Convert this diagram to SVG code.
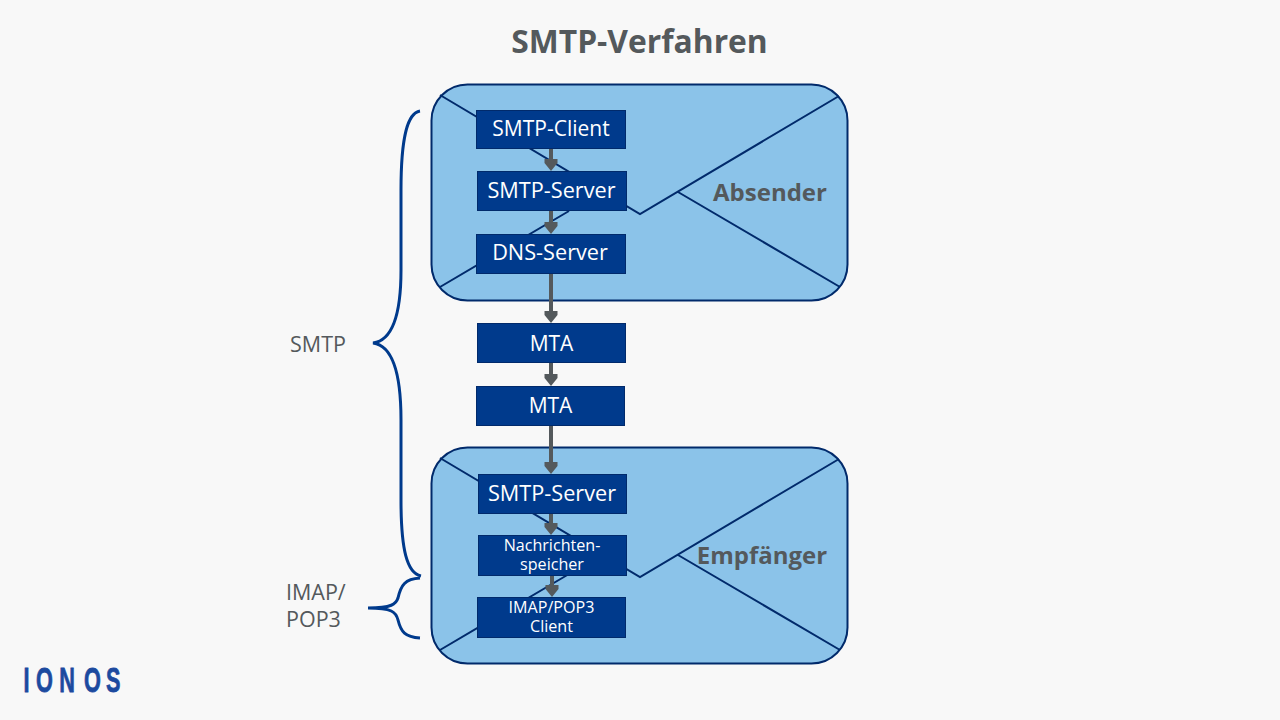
<svg xmlns="http://www.w3.org/2000/svg" width="1280" height="720" viewBox="0 0 1280 720">
<defs>
<marker id="arrow" markerUnits="userSpaceOnUse" markerWidth="14" markerHeight="14" refX="7" refY="6.500" orient="auto"><path d="M0,0 L4,0 L12,6.500 L4,13 L0,13 Z" fill="#54595c"/></marker>
<g id="envelope">
<rect x="431.500" y="84.500" width="416" height="216" rx="36" ry="36" fill="#8bc3e9" stroke="#012a6b" stroke-width="2"/>
<path d="M440,95 L640,214 L839,96 M440,287 L569,211 M678,192 L840,287" fill="none" stroke="#012a6b" stroke-width="2"/>
</g>
</defs>
<style>
text{font-family:"Open Sans","Noto Sans","DejaVu Sans",sans-serif;text-anchor:middle}
.box{fill:#003a8c;stroke:#012a6b;stroke-width:1}
.n{fill:#fff;font-size:21px}
.w{fill:#fff;font-size:21.700px}
.s{fill:#fff;font-size:16.100px}
.e{fill:#54595c;font-size:24px;font-weight:700}
.l{fill:#54595c;font-size:21.500px;text-anchor:start}
.c{fill:none;stroke:#54595c;stroke-width:4;marker-end:url(#arrow)}
.b{fill:none;stroke:#003a8c;stroke-width:3}
</style>
<rect width="1280" height="720" fill="#f8f8f8"/>
<text x="639.500" y="53" font-size="31.800" font-weight="700" fill="#54595c">SMTP-Verfahren</text>
<g id="absender"><use href="#envelope"/><text class="e" x="770" y="201">Absender</text></g>
<g id="empfaenger"><use href="#envelope" y="363"/><text class="e" x="762" y="564">Empfänger</text></g>
<g id="smtp-brace"><path class="b" d="M420,111 C408,113 401,135 401,190 L401,270 C401,305 396,340 373,343 C396,346 401,385 401,420 L401,500 C401,550 407,573 421,576"/><text class="l" x="290" y="352">SMTP</text></g>
<g id="imap-brace"><path class="b" d="M420,578 C405,579 401,585 398,598 C396,604 392,608 368,608 C392,608 396,612 398,620 C401,632 405,637 420,638"/><text class="l" x="286" y="600">IMAP/</text><text class="l" x="286" y="627">POP3</text></g>
<g id="connectors">
<path class="c" d="M551,149 V166"/>
<path class="c" d="M551,211 V229"/>
<path class="c" d="M551,274 V318"/>
<path class="c" d="M551,363 V381"/>
<path class="c" d="M551,426 V469"/>
<path class="c" d="M551,514 V530"/>
<path class="c" d="M552,576 V592"/>
</g>
<g id="smtp-client"><rect class="box" x="476.500" y="110.500" width="149" height="38"/><text class="n" x="551" y="136">SMTP-Client</text></g>
<g id="smtp-server-1"><rect class="box" x="477.500" y="171.500" width="149" height="39"/><text class="w" x="551.500" y="198">SMTP-Server</text></g>
<g id="dns-server"><rect class="box" x="476.500" y="234.500" width="149" height="39"/><text class="w" x="550" y="260">DNS-Server</text></g>
<g id="mta-1"><rect class="box" x="477.500" y="323.500" width="148" height="39"/><text class="n" x="551.500" y="351">MTA</text></g>
<g id="mta-2"><rect class="box" x="476.500" y="386.500" width="148" height="39"/><text class="n" x="550.500" y="413">MTA</text></g>
<g id="smtp-server-2"><rect class="box" x="478.500" y="474.500" width="148" height="39"/><text class="w" x="552" y="501">SMTP-Server</text></g>
<g id="speicher"><rect class="box" x="478.500" y="535.500" width="148" height="40"/><text class="s" x="552" y="551">Nachrichten-</text><text class="s" x="552" y="570">speicher</text></g>
<g id="imap-client"><rect class="box" x="477.500" y="597.500" width="148" height="40"/><text class="s" x="551.500" y="613">IMAP/POP3</text><text class="s" x="551.500" y="632">Client</text></g>
<g id="logo"><text x="0 20.200 57.300 97.600 133" y="0" transform="translate(23.600,691.500) scale(0.62,1)" font-size="35" font-weight="700" fill="#1c4a9f" stroke="#1c4a9f" stroke-width="0.800" style="font-family:'Liberation Sans',sans-serif;text-anchor:start">IONOS</text></g>
</svg>
